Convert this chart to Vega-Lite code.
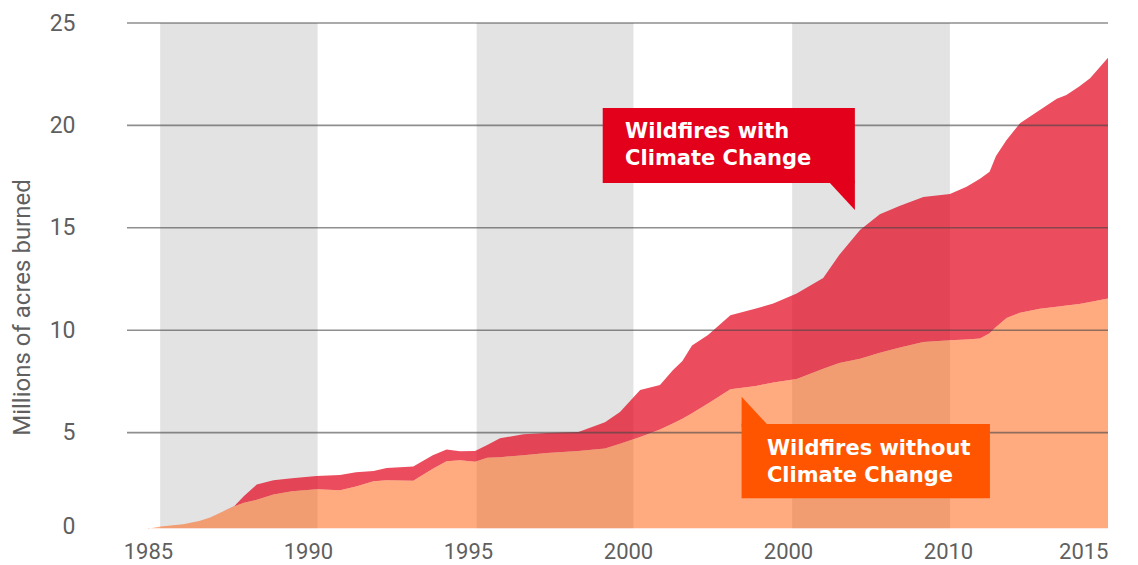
{
  "$schema": "https://vega.github.io/schema/vega-lite/v6.json",
  "width": 981,
  "height": 512,
  "autosize": {"type": "none"},
  "padding": {"left": 127, "right": 30, "top": 23, "bottom": 30},
  "background": "white",
  "config": {"view": {"stroke": null}},
  "datasets": {
    "fires": [
      {"year": 1985.0, "without": 0.3, "with": 0.3},
      {"year": 1985.4, "without": 0.42, "with": 0.42},
      {"year": 1986.1, "without": 0.52, "with": 0.52},
      {"year": 1986.6, "without": 0.68, "with": 0.68},
      {"year": 1986.94, "without": 0.85, "with": 0.85},
      {"year": 1987.34, "without": 1.15, "with": 1.15},
      {"year": 1987.7, "without": 1.4, "with": 1.42},
      {"year": 1988.0, "without": 1.58, "with": 1.9},
      {"year": 1988.4, "without": 1.72, "with": 2.47},
      {"year": 1988.92, "without": 1.98, "with": 2.67},
      {"year": 1989.5, "without": 2.14, "with": 2.77},
      {"year": 1990.27, "without": 2.23, "with": 2.88},
      {"year": 1991.0, "without": 2.18, "with": 2.93},
      {"year": 1991.5, "without": 2.37, "with": 3.06},
      {"year": 1992.05, "without": 2.62, "with": 3.12},
      {"year": 1992.46, "without": 2.67, "with": 3.27},
      {"year": 1993.29, "without": 2.65, "with": 3.35},
      {"year": 1993.9, "without": 3.24, "with": 3.9},
      {"year": 1994.33, "without": 3.6, "with": 4.17},
      {"year": 1994.75, "without": 3.65, "with": 4.09},
      {"year": 1995.22, "without": 3.58, "with": 4.1},
      {"year": 1995.6, "without": 3.77, "with": 4.4},
      {"year": 1996.0, "without": 3.8, "with": 4.72},
      {"year": 1996.73, "without": 3.9, "with": 4.92},
      {"year": 1997.46, "without": 4.0, "with": 4.98},
      {"year": 1998.45, "without": 4.1, "with": 5.03},
      {"year": 1999.28, "without": 4.22, "with": 5.5},
      {"year": 1999.75, "without": 4.45, "with": 6.0},
      {"year": 2000.38, "without": 4.78, "with": 7.08},
      {"year": 2001.0, "without": 5.15, "with": 7.33},
      {"year": 2001.4, "without": 5.45, "with": 8.05},
      {"year": 2001.7, "without": 5.68, "with": 8.5},
      {"year": 2002.0, "without": 5.95, "with": 9.25},
      {"year": 2002.5, "without": 6.42, "with": 9.76},
      {"year": 2003.2, "without": 7.12, "with": 10.73},
      {"year": 2004.0, "without": 7.28, "with": 11.06},
      {"year": 2004.54, "without": 7.45, "with": 11.3},
      {"year": 2005.27, "without": 7.62, "with": 11.79},
      {"year": 2006.1, "without": 8.12, "with": 12.55},
      {"year": 2006.6, "without": 8.4, "with": 13.67},
      {"year": 2007.25, "without": 8.6, "with": 14.89},
      {"year": 2007.87, "without": 8.9, "with": 15.66},
      {"year": 2008.5, "without": 9.15, "with": 16.08},
      {"year": 2009.23, "without": 9.42, "with": 16.51},
      {"year": 2010.06, "without": 9.51, "with": 16.65},
      {"year": 2010.58, "without": 9.55, "with": 17.0},
      {"year": 2011.0, "without": 9.6, "with": 17.4},
      {"year": 2011.3, "without": 9.85, "with": 17.74},
      {"year": 2011.5, "without": 10.16, "with": 18.5},
      {"year": 2011.83, "without": 10.6, "with": 19.29},
      {"year": 2012.25, "without": 10.85, "with": 20.1},
      {"year": 2012.87, "without": 11.05, "with": 20.75},
      {"year": 2013.4, "without": 11.14, "with": 21.3},
      {"year": 2013.7, "without": 11.2, "with": 21.49},
      {"year": 2014.1, "without": 11.28, "with": 21.9},
      {"year": 2014.44, "without": 11.38, "with": 22.3},
      {"year": 2015.0, "without": 11.55, "with": 23.3}
    ],
    "bands": [
      {"start": 1985.38, "end": 1990.3},
      {"start": 1995.27, "end": 2000.17},
      {"start": 2005.13, "end": 2010.06}
    ],
    "grid": [{"v": 5}, {"v": 10}, {"v": 15}, {"v": 20}, {"v": 25}]
  },
  "layer": [
    {
      "data": {"name": "bands"},
      "mark": {"type": "rect", "color": "#e3e3e3"},
      "encoding": {
        "x": {"field": "start", "type": "quantitative", "scale": {"domain": [1984.344, 2015], "nice": false, "zero": false},
          "axis": {"values": [1985, 1990, 1995, 2000, 2005, 2010, 2015], "labelExpr": "datum.value === 2005 ? '2000' : format(datum.value, 'd')", "grid": false, "ticks": false, "domain": false, "labelFont": "Roboto", "labelFontSize": 22, "labelColor": "#5f5f5f", "labelPadding": 6, "title": null}},
        "x2": {"field": "end"},
        "y": {"datum": 25, "type": "quantitative", "scale": {"domain": [0, 25], "nice": false},
          "axis": {"values": [0, 5, 10, 15, 20, 25], "grid": false, "ticks": false, "domain": false, "labelFont": "Roboto", "labelFontSize": 23, "labelColor": "#5f5f5f", "labelPadding": 52, "labelOffset": {"condition": {"test": "datum.value === 0", "value": -9}, "value": 0}, "title": "Millions of acres burned", "titleFont": "Roboto", "titleFontSize": 24, "titleFontWeight": "normal", "titleColor": "#606060", "titleX": -105, "titleY": 284, "titleAngle": -90, "titleAlign": "center", "titleBaseline": "middle"}},
        "y2": {"datum": 0.33}
      }
    },
    {
      "data": {"name": "fires"},
      "mark": {"type": "area", "color": "#E2001A", "opacity": 0.7},
      "encoding": {
        "x": {"field": "year", "type": "quantitative"},
        "y": {"field": "with", "type": "quantitative"},
        "y2": {"field": "without"}
      }
    },
    {
      "data": {"name": "fires"},
      "mark": {"type": "area", "color": "#FF5500", "opacity": 0.5},
      "encoding": {
        "x": {"field": "year", "type": "quantitative"},
        "y": {"field": "without", "type": "quantitative"},
        "y2": {"datum": 0.33}
      }
    },
    {
      "data": {"name": "grid"},
      "mark": {"type": "rule", "color": "#444444", "opacity": 0.6, "strokeWidth": 1.6},
      "encoding": {
        "y": {"field": "v", "type": "quantitative"}
      }
    },
    {
      "data": {"values": [{"x1": 1999.21, "x2": 2007.09, "y1": 20.85, "y2": 17.19}]},
      "mark": {"type": "rect", "color": "#E2001A"},
      "encoding": {
        "x": {"field": "x1", "type": "quantitative"},
        "x2": {"field": "x2"},
        "y": {"field": "y1", "type": "quantitative"},
        "y2": {"field": "y2"}
      }
    },
    {
      "data": {"values": [{"x": 2006.31, "top": 17.3, "bottom": 17.19}, {"x": 2007.09, "top": 17.3, "bottom": 15.87}]},
      "mark": {"type": "area", "color": "#E2001A"},
      "encoding": {
        "x": {"field": "x", "type": "quantitative"},
        "y": {"field": "top", "type": "quantitative"},
        "y2": {"field": "bottom"}
      }
    },
    {
      "data": {"values": [{"x1": 2003.55, "x2": 2011.31, "y1": 5.42, "y2": 1.79}]},
      "mark": {"type": "rect", "color": "#FF5500"},
      "encoding": {
        "x": {"field": "x1", "type": "quantitative"},
        "x2": {"field": "x2"},
        "y": {"field": "y1", "type": "quantitative"},
        "y2": {"field": "y2"}
      }
    },
    {
      "data": {"values": [{"x": 2003.55, "top": 6.75, "bottom": 5.3}, {"x": 2004.34, "top": 5.42, "bottom": 5.3}]},
      "mark": {"type": "area", "color": "#FF5500"},
      "encoding": {
        "x": {"field": "x", "type": "quantitative"},
        "y": {"field": "top", "type": "quantitative"},
        "y2": {"field": "bottom"}
      }
    },
    {
      "data": {"values": [
        {"x": 1999.91, "y": 19.37, "label": "Wildfires with\nClimate Change"},
        {"x": 2004.34, "y": 3.91, "label": "Wildfires without\nClimate Change"}
      ]},
      "mark": {"type": "text", "color": "white", "font": "DejaVu Sans", "fontWeight": "bold", "fontSize": 21, "align": "left", "baseline": "alphabetic", "lineBreak": "\n", "lineHeight": 27},
      "encoding": {
        "x": {"field": "x", "type": "quantitative"},
        "y": {"field": "y", "type": "quantitative"},
        "text": {"field": "label", "type": "nominal"}
      }
    }
  ]
}
